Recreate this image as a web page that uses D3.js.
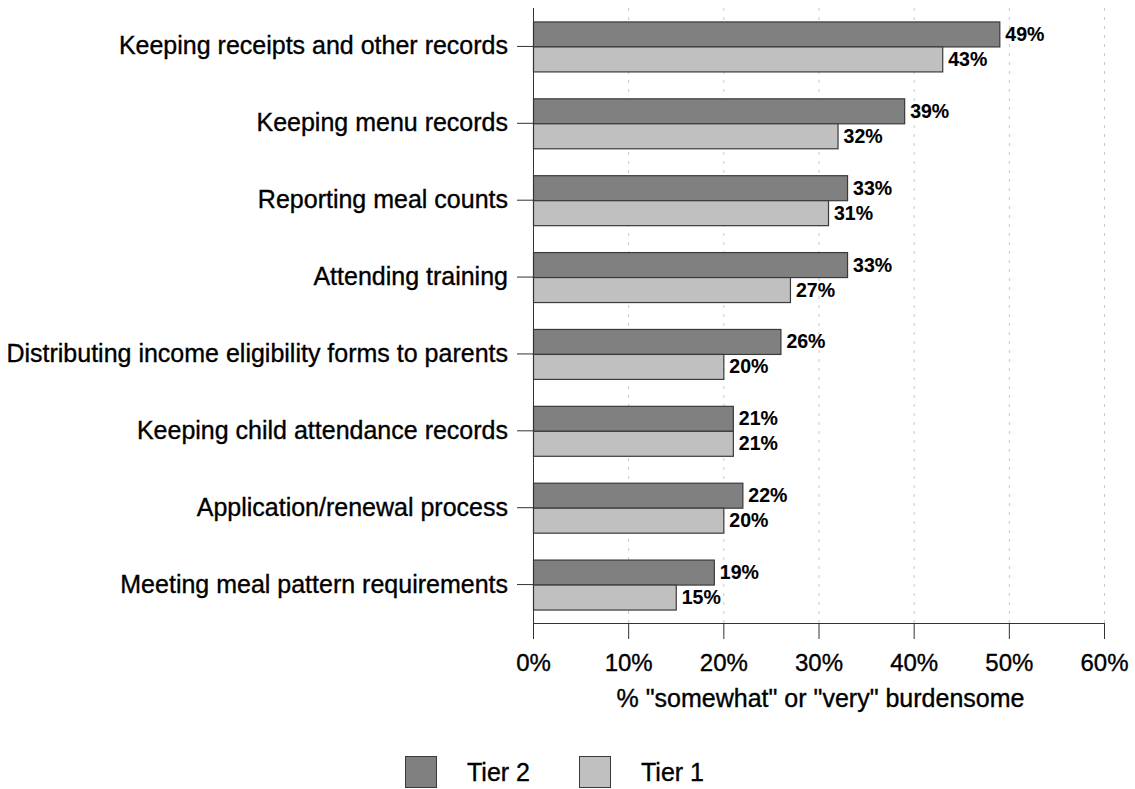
<!DOCTYPE html>
<html>
<head>
<meta charset="utf-8">
<script src="https://cdn.jsdelivr.net/npm/d3@7"></script>
<style>
  body { margin: 0; background: #fff; }
  text { font-family: "Liberation Sans", Arial, sans-serif; fill: #000; stroke: #000; stroke-width: 0.35px; }
</style>
</head>
<body>
<script>
// data
var categories = [
  "Keeping receipts and other records",
  "Keeping menu records",
  "Reporting meal counts",
  "Attending training",
  "Distributing income eligibility forms to parents",
  "Keeping child attendance records",
  "Application/renewal process",
  "Meeting meal pattern requirements"
];
var seriesNames = ["Tier 2", "Tier 1"];
var tier2 = [49, 39, 33, 33, 26, 21, 22, 19];
var tier1 = [43, 32, 31, 27, 20, 21, 20, 15];
var xTicks = [0, 10, 20, 30, 40, 50, 60];
var colors = { "Tier 2": "#808080", "Tier 1": "#c0c0c0" };

var svgWidth = 1135;
var svgHeight = 789;
var margin = { top: 8, right: 31, bottom: 166, left: 533 };
var width = svgWidth - margin.left - margin.right;
var height = svgHeight - margin.top - margin.bottom;

var rows = categories.map(function(c, i) {
  return { cat: c, values: [
    { name: "Tier 2", value: tier2[i] },
    { name: "Tier 1", value: tier1[i] }
  ]};
});

var svg = d3.select("body")
  .append("svg")
  .attr("width", svgWidth)
  .attr("height", svgHeight);

var chartGroup = svg.append("g")
  .attr("transform", `translate(${margin.left}, ${margin.top})`);

var x = d3.scaleLinear().domain([0, 60]).range([0, width]);
var y = d3.scaleBand().domain(categories).range([0, height])
  .paddingInner(0.35).paddingOuter(0.175);
var ySub = d3.scaleBand().domain(seriesNames).range([0, y.bandwidth()]);

// dotted gridlines
chartGroup.append("g")
  .selectAll("line")
  .data(xTicks.filter(function(t) { return t > 0; }))
  .enter()
  .append("line")
  .attr("x1", d => x(d) + 0.5)
  .attr("x2", d => x(d) + 0.5)
  .attr("y1", 0)
  .attr("y2", height)
  .attr("stroke", "#c8c8c8")
  .attr("stroke-width", 1)
  .attr("stroke-dasharray", "3,6");

// bars
var groups = chartGroup.selectAll(".row")
  .data(rows)
  .enter()
  .append("g")
  .attr("class", "row")
  .attr("transform", d => `translate(0, ${y(d.cat)})`);

groups.selectAll("rect")
  .data(d => d.values)
  .enter()
  .append("rect")
  .attr("x", 0.5)
  .attr("y", d => ySub(d.name) + 0.5)
  .attr("width", d => x(d.value))
  .attr("height", ySub.bandwidth())
  .attr("fill", d => colors[d.name])
  .attr("stroke", "#3a3a3a")
  .attr("stroke-width", 1.2);

groups.selectAll("text.val")
  .data(d => d.values)
  .enter()
  .append("text")
  .attr("class", "val")
  .attr("x", d => x(d.value) + 6)
  .attr("y", d => ySub(d.name) + ySub.bandwidth() / 2)
  .attr("dy", "0.36em")
  .style("font-size", "19.5px")
  .style("font-weight", "bold")
  .style("stroke-width", "0.1px")
  .text(d => d.value + "%");

// y axis
var leftAxis = d3.axisLeft(y).tickSize(16).tickPadding(9);
var yAxis = chartGroup.append("g").call(leftAxis);
yAxis.select(".domain").remove();
yAxis.selectAll(".tick line").attr("stroke", "#333");
yAxis.selectAll(".tick text")
  .style("font-size", "25px")
  .style("font-family", "'Liberation Sans', Arial, sans-serif");
chartGroup.append("line")
  .attr("x1", 0.5).attr("x2", 0.5)
  .attr("y1", 0).attr("y2", height + 16)
  .attr("stroke", "#333");

// x axis
var bottomAxis = d3.axisBottom(x).tickValues(xTicks)
  .tickFormat(d => d + "%").tickSize(16).tickPadding(15).tickSizeOuter(0);
var xAxis = chartGroup.append("g")
  .attr("transform", `translate(0, ${height})`)
  .call(bottomAxis);
xAxis.select(".domain").attr("stroke", "#333");
xAxis.selectAll(".tick line").attr("stroke", "#333");
xAxis.selectAll(".tick text")
  .style("font-size", "24px")
  .style("font-family", "'Liberation Sans', Arial, sans-serif");

// axis title
chartGroup.append("text")
  .attr("x", width / 2 + 2)
  .attr("y", height + 75)
  .attr("dy", "0.36em")
  .attr("text-anchor", "middle")
  .style("font-size", "25px")
  .text('% "somewhat" or "very" burdensome');

// legend
var legend = svg.append("g")
  .attr("transform", "translate(405, 756)");
var legendX = { "Tier 2": 0, "Tier 1": 174 };
seriesNames.forEach(function(s) {
  legend.append("rect")
    .attr("x", legendX[s] + 0.5)
    .attr("y", 0.5)
    .attr("width", 31)
    .attr("height", 31)
    .attr("fill", colors[s])
    .attr("stroke", "#3a3a3a");
  legend.append("text")
    .attr("x", legendX[s] + 62)
    .attr("y", 16)
    .attr("dy", "0.36em")
    .style("font-size", "25px")
    .text(s);
});
</script>
</body>
</html>
